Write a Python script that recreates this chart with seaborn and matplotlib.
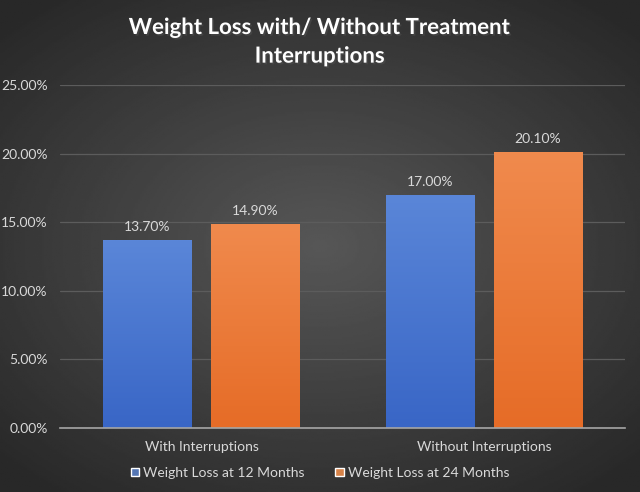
import numpy as np
import pandas as pd
import matplotlib
matplotlib.use('Agg')
import matplotlib.pyplot as plt
import matplotlib.patheffects as pe
import seaborn as sns

groups = ['With Interruptions', 'Without Interruptions']
series = ['Weight Loss at 12 Months', 'Weight Loss at 24 Months']
loss_12 = [0.137, 0.170]
loss_24 = [0.149, 0.201]
y_ticks = [0.0, 0.05, 0.10, 0.15, 0.20, 0.25]

df = pd.DataFrame({
    'group': groups * 2,
    'series': [series[0]] * 2 + [series[1]] * 2,
    'value': loss_12 + loss_24,
})

sns.set_style('dark')
plt.rcParams['font.family'] = ['Lato', 'DejaVu Sans']

text_col = '#d9d9d9'
palette = {series[0]: '#4472c4', series[1]: '#ed7d31'}
grads = {series[0]: ('#5a86d8', '#3966c6'), series[1]: ('#f08a4d', '#e66c27')}

fig = plt.figure(figsize=(6.4, 4.92), dpi=100)

# radial dark background
bg = fig.add_axes([0, 0, 1, 1])
yy, xx = np.mgrid[-1:1:300j, -1:1:300j]
r = np.sqrt(xx ** 2 + (yy * 1.1) ** 2)
bg.imshow(0.34 - 0.13 * np.clip(r, 0, 1.4), cmap='gray', vmin=0, vmax=1,
          extent=[0, 1, 0, 1], aspect='auto')
bg.set_axis_off()

ax = fig.add_axes([0.094, 0.13, 0.883, 0.697])
ax.patch.set_alpha(0)
sns.barplot(data=df, x='group', y='value', hue='series', palette=palette,
            width=0.765, gap=0.185, ax=ax, legend=True)

# vertical gradient fill for each bar
for cont, s in zip(ax.containers, series):
    c_top, c_bot = grads[s]
    cmap = matplotlib.colors.LinearSegmentedColormap.from_list('g', [c_bot, c_top])
    for bar in cont:
        x0, w, h = bar.get_x(), bar.get_width(), bar.get_height()
        im = ax.imshow(np.linspace(0, 1, 100).reshape(-1, 1), cmap=cmap, origin='lower',
                       extent=[x0, x0 + w, 0, h], aspect='auto', zorder=bar.get_zorder())
        im.set_clip_path(bar)
        bar.set_edgecolor('none')
    ax.bar_label(cont, labels=['{:.2f}%'.format(v * 100) for v in cont.datavalues],
                 padding=5, color=text_col, fontsize=10)

ax.set_xlim(-0.5, 1.5)
ax.set_ylim(0, 0.25)
ax.set_yticks(y_ticks)
ax.set_yticklabels(['{:.2f}%'.format(v * 100) for v in y_ticks])
ax.grid(axis='y', color='#5c5c5c', linewidth=0.9)
ax.grid(axis='x', visible=False)
ax.set_axisbelow(True)
for sp in ['top', 'right', 'left']:
    ax.spines[sp].set_visible(False)
ax.spines['bottom'].set_color('#a6a6a6')
ax.spines['bottom'].set_linewidth(1.2)
ax.tick_params(axis='both', length=0, colors=text_col, labelsize=10)
ax.tick_params(axis='x', pad=9)
ax.tick_params(axis='y', pad=9)
ax.set_xlabel('')
ax.set_ylabel('')

handles, labels = ax.get_legend_handles_labels()
ax.legend_.remove()
fig.legend(handles, labels, loc='center', bbox_to_anchor=(0.5, 0.039), ncol=2,
           frameon=False, fontsize=10, labelcolor=text_col, handlelength=0.6,
           handleheight=0.6, handletextpad=0.3, columnspacing=2.2)

fig.text(0.5, 0.915, 'Weight Loss with/ Without Treatment\nInterruptions', ha='center',
         va='center', color='white', fontsize=16, fontweight='bold', linespacing=1.45,
         path_effects=[pe.withSimplePatchShadow(offset=(1.2, -1.2), alpha=0.6)])

fig.savefig('out.png', dpi=100)
